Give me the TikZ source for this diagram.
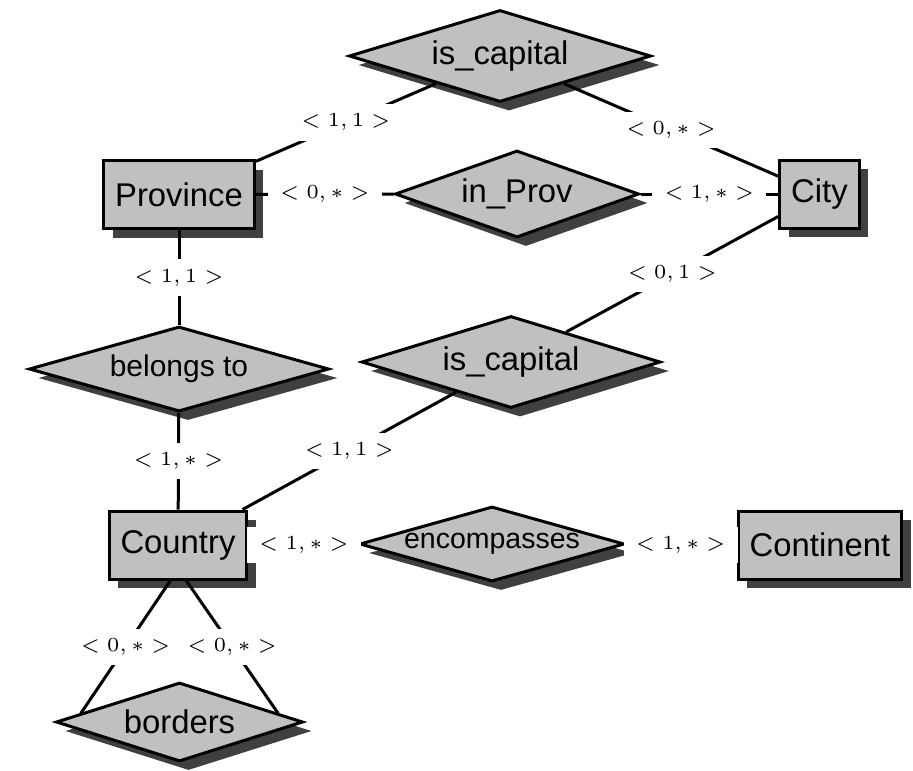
\documentclass[tikz,border=0pt]{standalone}
\usepackage{fontspec}
\newfontfamily\erfont{Liberation Sans}
\usetikzlibrary{shapes.geometric,shadows}
\definecolor{boxgray}{HTML}{C0C0C0}
\definecolor{shadegray}{HTML}{404040}
\tikzset{
  er/.style={draw, line width=0.9pt, fill=boxgray,
    drop shadow={shadow xshift=2.7pt, shadow yshift=-2.7pt, fill=shadegray, opacity=1}},
  entity/.style={er, rectangle, font=\erfont\fontsize{9.85}{11}\selectfont,
    inner xsep=3.45pt, minimum height=20.4pt},
  relation/.style={er, diamond, inner sep=0pt, font=\erfont\fontsize{9.85}{11}\selectfont},
  card/.style={fill=white, font=\fontsize{6}{7}\selectfont, inner xsep=3.7pt, inner ysep=2.9pt},
  link/.style={line width=0.9pt},
}
\begin{document}
\begin{tikzpicture}[x=0.3pt,y=-0.3pt]
\useasboundingbox (0,0) rectangle (913,770);

% entities
\node[entity] (province)  at (179,194.5) {Province};
\node[entity] (city)      at (819.5,194) {City};
\node[entity] (country)   at (178,545)   {Country};
\node[entity] (continent) at (820,545)   {Continent};

% relationships
\node[relation, minimum width=90.6pt, minimum height=27.6pt] (capprov) at (500,56) {\makebox[0pt]{is\_capital}};
\node[relation, minimum width=73.2pt, minimum height=26.1pt] (inprov) at (517,194) {\makebox[0pt]{in\_Prov}};
\node[relation, minimum width=90pt, minimum height=25.5pt,
      font=\erfont\fontsize{9}{11}\selectfont] (belongs) at (179,369) {\makebox[0pt]{belongs to}};
\node[relation, minimum width=89.7pt, minimum height=27.6pt] (capcountry) at (511,362) {\makebox[0pt]{is\_capital}};
\node[relation, minimum width=79.5pt, minimum height=22.5pt,
      font=\erfont\fontsize{8.55}{10}\selectfont] (encomp) at (492,544) {\makebox[0pt]{encompasses}};
\node[relation, minimum width=74.1pt, minimum height=23.7pt] (borders) at (179.5,722) {\makebox[0pt]{borders}};

% connectors with cardinalities
\draw[link] (province) -- node[card, midway] (c1) {$<1,1>$} (capprov);
\draw[link] (city) -- node[card, midway] (c2) {$<0,*>$} (capprov);
\draw[link] (province) -- node[card, midway] (c3) {$<0,*>$} (inprov);
\draw[link] (inprov) -- node[card, midway] (c4) {$<1,*>$} (city);
\draw[link] (province) -- node[card, midway] (c5) {$<1,1>$} (belongs);
\draw[link] (city) -- node[card, midway] (c6) {$<0,1>$} (capcountry);
\draw[link] (belongs) -- node[card, midway] (c7) {$<1,*>$} (country);
\draw[link] (country) -- node[card, midway] (c8) {$<1,1>$} (capcountry);
\draw[link] (country) -- node[card, midway] (c9) {$<1,*>$} (encomp);
\draw[link] (encomp) -- node[card, midway] (c10) {$<1,*>$} (continent);
\draw[link] (country.-102.5) -- node[card, midway] (c11) {$<0,*>$} (borders.175);
\draw[link] (country.-77.5) -- node[card, midway] (c12) {$<0,*>$} (borders.5);
\end{tikzpicture}
\end{document}
